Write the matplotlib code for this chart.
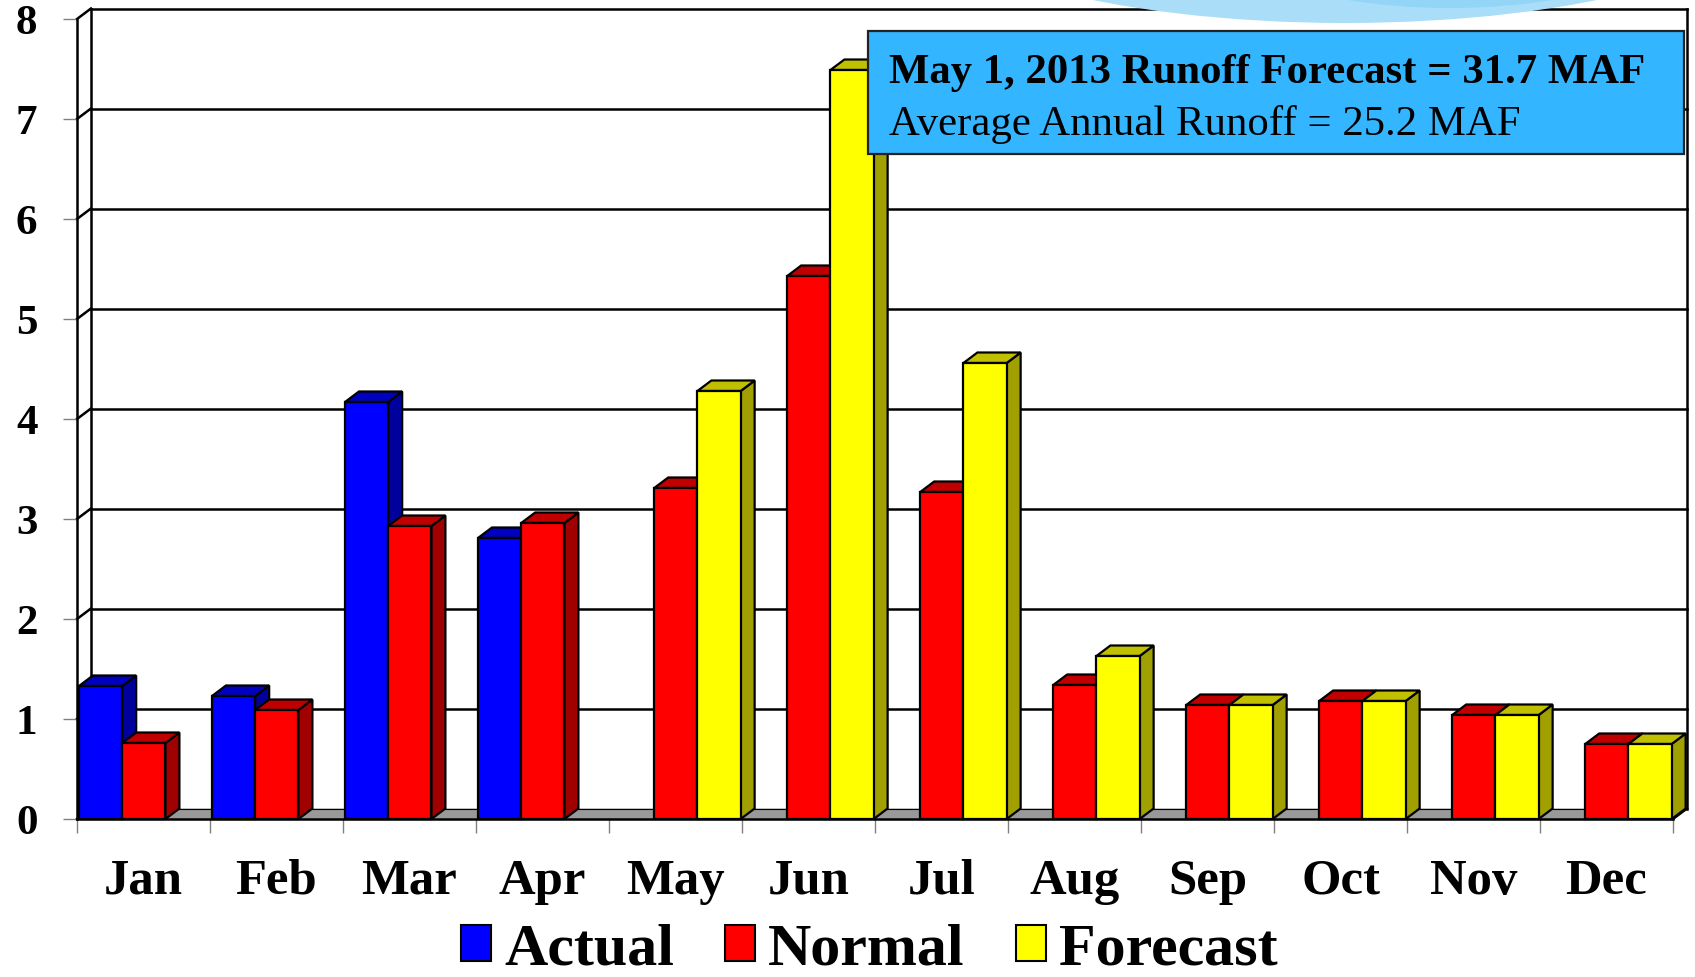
import numpy as np
import matplotlib
matplotlib.use("Agg")
import matplotlib.pyplot as plt
from matplotlib.patches import Rectangle, Polygon, Ellipse, Patch

# ---- data (million acre-feet per month) ----
months = ["Jan", "Feb", "Mar", "Apr", "May", "Jun",
          "Jul", "Aug", "Sep", "Oct", "Nov", "Dec"]
actual = [1.33, 1.23, 4.17, 2.81, None, None, None, None, None, None, None, None]
normal = [0.76, 1.09, 2.93, 2.96, 3.31, 5.43, 3.27, 1.34, 1.14, 1.18, 1.04, 0.75]
forecast = [None, None, None, None, 4.28, 7.49, 4.56, 1.63, 1.14, 1.18, 1.04, 0.75]
series_names = ["Actual", "Normal", "Forecast"]
yticks = list(range(0, 9))
title_line1 = "May 1, 2013 Runoff Forecast = 31.7 MAF"
title_line2 = "Average Annual Runoff = 25.2 MAF"

# face colours: front, top, side
palette = {
    "Actual": ("#0000FF", "#0000C0", "#00009C"),
    "Normal": ("#FF0000", "#C00000", "#A00000"),
    "Forecast": ("#FFFF00", "#C0C000", "#A0A000"),
}

SERIF = "Liberation Serif"
W, H = 1695, 978
fig = plt.figure(figsize=(W / 100, H / 100), dpi=100, facecolor="white")

# front plane of the 3-D plot box
ax = fig.add_axes([77 / W, (H - 820) / H, 1596 / W, 800 / H])
ax.set_xlim(0, 12)
ax.set_ylim(0, 8)
ax.patch.set_visible(False)
for s in ("top", "right"):
    ax.spines[s].set_visible(False)
for s in ("left", "bottom"):
    ax.spines[s].set_color("black")
    ax.spines[s].set_linewidth(1.8)
    ax.spines[s].set_zorder(50)

DX, DY = 0.105, 0.105        # depth offset of the box (data units)
OFF, BW = 0.015, 0.325       # slot offset and bar width inside a month
n = len(months)

# decorative ellipse at the top edge
fig.patches.append(Ellipse((1345 / W, 1 + 100 / H), 870 / W, 248 / H,
                           transform=fig.transFigure, fc="#A9DDF8", ec="none", zorder=0))
fig.patches.append(Ellipse((1450 / W, 1 + 98 / H), 540 / W, 214 / H,
                           transform=fig.transFigure, fc="#93D5F7", ec="none", zorder=0))

# floor
ax.add_patch(Polygon([(0, 0), (n, 0), (n + DX, DY), (DX, DY)], closed=True,
                     fc="#999999", ec="none", zorder=1, clip_on=False))
ax.plot([n, n + DX], [0, DY], color="black", lw=1.8, zorder=2, clip_on=False)

# back wall, side wall and gridlines
for v in yticks:
    ax.plot([DX, n + DX], [v + DY, v + DY], color="black",
            lw=1.8 if v > 0 else 0.8, zorder=1.5, clip_on=False)
    ax.plot([0, DX], [v, v + DY], color="black", lw=1.8, zorder=1.5, clip_on=False)
ax.plot([DX, DX], [DY, 8 + DY], color="black", lw=1.8, zorder=1.5, clip_on=False)
ax.plot([n + DX, n + DX], [DY, 8 + DY], color="black", lw=1.8, zorder=1.5, clip_on=False)

# 3-D bars, painted left to right so nearer faces overlap
z = 3.0
for g in range(n):
    for s, (name, vals) in enumerate(zip(series_names, (actual, normal, forecast))):
        v = vals[g]
        if v is None:
            continue
        fc, tc, sc = palette[name]
        x0 = g + OFF + s * BW
        x1 = x0 + BW
        ax.add_patch(Polygon([(x1, 0), (x1 + DX, DY), (x1 + DX, v + DY), (x1, v)],
                             closed=True, fc=sc, ec="black", lw=1.6, zorder=z,
                             joinstyle="miter", clip_on=False))
        ax.add_patch(Polygon([(x0, v), (x1, v), (x1 + DX, v + DY), (x0 + DX, v + DY)],
                             closed=True, fc=tc, ec="black", lw=1.6, zorder=z,
                             joinstyle="miter", clip_on=False))
        ax.add_patch(Rectangle((x0, 0), BW, v, fc=fc, ec="black", lw=1.6,
                               zorder=z + 0.001, joinstyle="miter", clip_on=False))
        z += 0.01

# axes ticks and labels
ax.set_yticks(yticks)
ax.set_yticklabels([str(t) for t in yticks], fontfamily=SERIF,
                   fontweight="bold", fontsize=31)
ax.tick_params(axis="y", length=10, width=1, color="#808080", pad=18.5)
ax.set_xticks(np.arange(n + 1), minor=True)
ax.set_xticks(np.arange(n) + 0.5)
ax.set_xticklabels(months, fontfamily=SERIF, fontweight="bold", fontsize=36.5)
ax.tick_params(axis="x", which="major", length=0, pad=28)
ax.tick_params(axis="x", which="minor", length=10, width=1, color="#808080")

# legend
handles = [Patch(fc=palette[nm][0], ec="black", lw=1.5) for nm in series_names]
fig.legend(handles, series_names, loc="lower left",
           bbox_to_anchor=(461 / W, 0.0), ncol=3, frameon=False,
           prop={"family": SERIF, "weight": "bold", "size": 43.2},
           handlelength=0.5, handleheight=0.55, handletextpad=0.22,
           columnspacing=0.85, borderpad=0, borderaxespad=0)

# forecast summary box
ax.add_patch(Rectangle((868 / W, 1 - 155 / H), (1684 - 868) / W, (155 - 32) / H,
                       transform=fig.transFigure, fc="#33B5FF", ec="#222222",
                       lw=1.6, zorder=40, clip_on=False))
ax.text(889 / W, 1 - 73 / H, title_line1, transform=fig.transFigure,
        fontfamily=SERIF, fontweight="bold", fontsize=30.8, va="center", ha="left",
        zorder=41)
ax.text(889 / W, 1 - 125 / H, title_line2, transform=fig.transFigure,
        fontfamily=SERIF, fontsize=30.8, va="center", ha="left", zorder=41)

fig.savefig("out.png", dpi=100, facecolor="white")
